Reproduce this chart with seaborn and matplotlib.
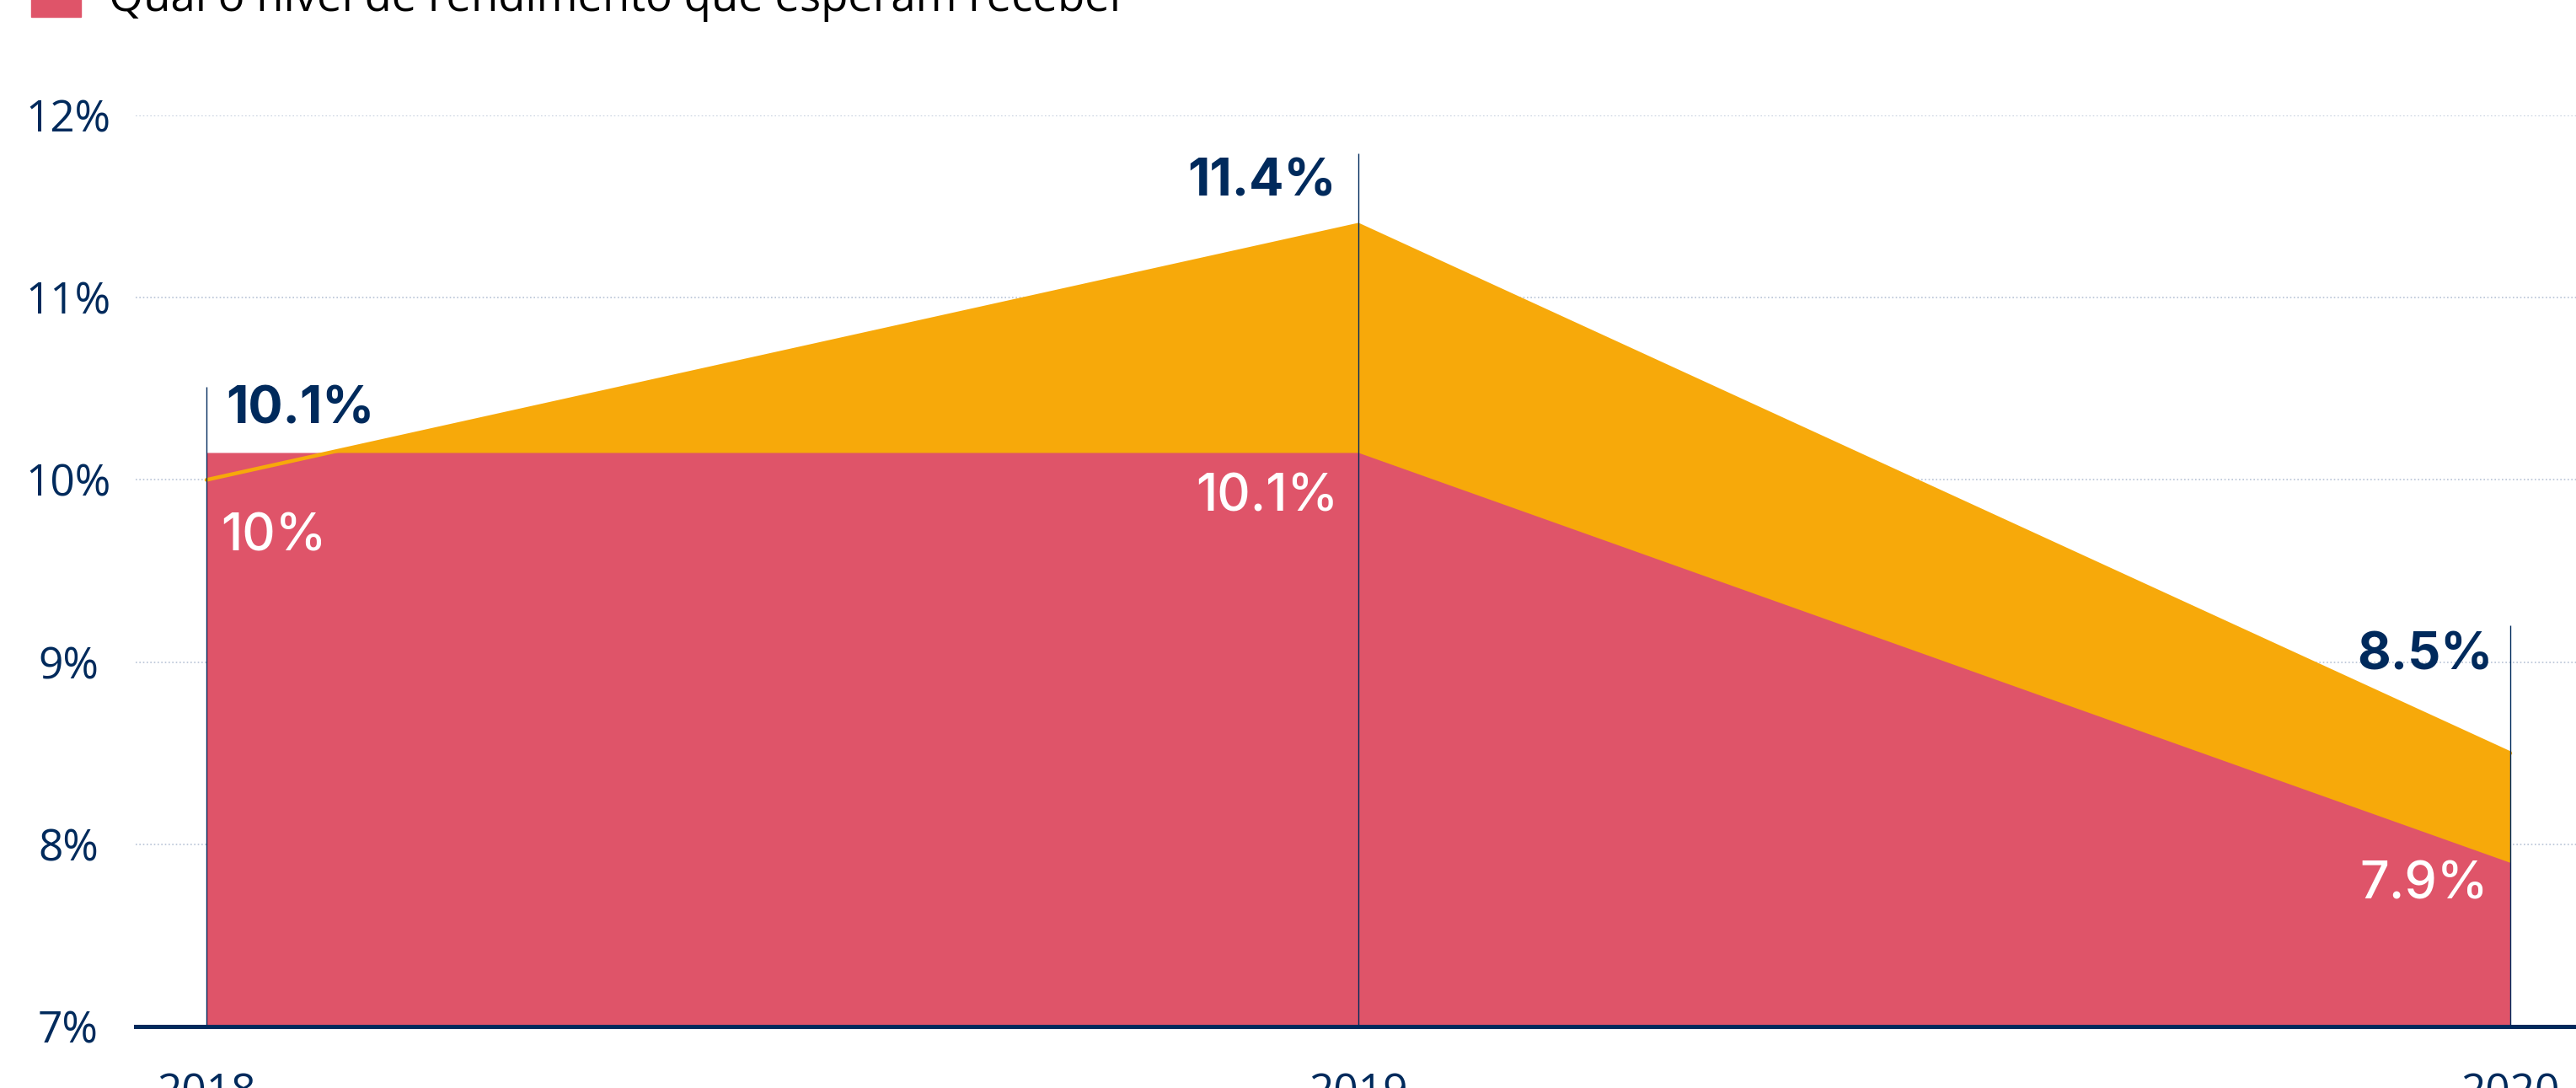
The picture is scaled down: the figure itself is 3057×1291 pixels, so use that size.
import seaborn as sns
import matplotlib.pyplot as plt
import matplotlib.patches as mpatches
import pandas as pd

# dados
anos = [2018, 2019, 2020]
esperavam = [10.0, 11.4, 8.5]          # série laranja
esperam_receber = [10.15, 10.15, 7.9]  # série rosa
rotulos_esperavam = ["10.1%", "11.4%", "8.5%"]
rotulos_receber = ["10%", "10.1%", "7.9%"]
topo_linhas = [10.51, 11.79, 9.2]
y_ticks = [7, 8, 9, 10, 11, 12]
y_tick_labels = ["7%", "8%", "9%", "10%", "11%", "12%"]
legenda = "Qual o nível de rendimento que esperam receber"

NAVY = "#002A5C"
ROSA = "#DF5469"
LARANJA = "#F7A90A"

sns.set_style("white")
plt.rcParams['font.family'] = ['Open Sans', 'DejaVu Sans']

W, H = 3057, 1291
fig = plt.figure(figsize=(W / 100, H / 100), dpi=100)
ax = fig.add_axes([161 / W, 1 - 1218 / H, 1 - 161 / W, (1218 - 137) / H])

df = pd.DataFrame({"ano": anos, "esperavam": esperavam, "receber": esperam_receber})

# áreas
ax.fill_between(df["ano"], 7, df["esperavam"], color=LARANJA, lw=0, zorder=1)
ax.fill_between(df["ano"], 7, df["receber"], color=ROSA, lw=0, zorder=2)
sns.lineplot(data=df, x="ano", y="esperavam", color=LARANJA, lw=3.2, ax=ax, zorder=3)

# linhas verticais
ax.vlines(anos, 7, topo_linhas, color=NAVY, lw=1.0, zorder=4)

# rótulos
px = 1 / 1367.0
lab_kw = dict(fontsize=44, fontweight='bold', family=['Inter', 'DejaVu Sans'], va='baseline', zorder=5)
ax.text(anos[0] + 23 * px, 10.31, rotulos_esperavam[0], color=NAVY, ha='left', **lab_kw)
ax.text(anos[1] - 26 * px, 11.56, rotulos_esperavam[1], color=NAVY, ha='right', **lab_kw)
ax.text(anos[2] - 21 * px, 8.96, rotulos_esperavam[2], color=NAVY, ha='right', **lab_kw)
lab_kw['fontweight'] = 'medium'
ax.text(anos[0] + 17 * px, 9.61, rotulos_receber[0], color='white', ha='left', **lab_kw)
ax.text(anos[1] - 24 * px, 9.83, rotulos_receber[1], color='white', ha='right', **lab_kw)
ax.text(anos[2] - 26 * px, 7.70, rotulos_receber[2], color='white', ha='right', **lab_kw)

# eixos
ax.set_xlim(2018 - 84 * px, 2020 + 78 * px)
ax.set_ylim(7, 12)
ax.set_xticks(anos)
ax.set_xticklabels([str(a) for a in anos])
ax.set_yticks(y_ticks)
ax.set_yticklabels(y_tick_labels)
ax.tick_params(axis='both', length=0, labelsize=37, labelcolor=NAVY)
ax.tick_params(axis='y', pad=57.6)
ax.tick_params(axis='x', pad=39)
for lbl in ax.get_yticklabels():
    lbl.set_horizontalalignment('center')
ax.set_xlabel("")
ax.set_ylabel("")

ax.set_axisbelow(True)
ax.yaxis.grid(True, color="#b8c4d6", lw=1.2, ls=(0, (1, 1.6)))
ax.xaxis.grid(False)
for s in ["top", "right", "left"]:
    ax.spines[s].set_visible(False)
ax.spines["bottom"].set_color(NAVY)
ax.spines["bottom"].set_linewidth(3.6)
ax.spines["bottom"].set_zorder(6)

# legenda (cortada no topo)
fig.patches.append(mpatches.Rectangle((37 / W, 1 - 20 / H), 59 / W, 60 / H,
                                      transform=fig.transFigure, color=ROSA))
fig.text(129 / W, 1 - 13 / H, legenda, fontsize=38, color='black', va='baseline', ha='left')

fig.savefig("out.png", dpi=100)
